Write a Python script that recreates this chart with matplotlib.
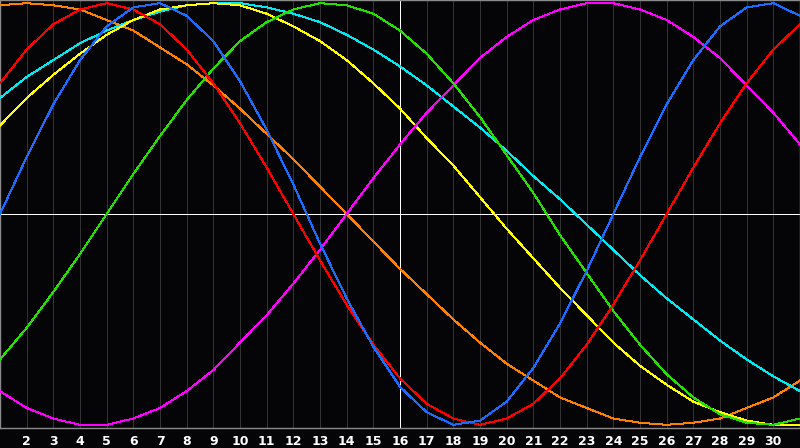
import matplotlib
matplotlib.use("Agg")
import matplotlib.pyplot as plt

# days of the month shown on the x axis (day 1 at the left edge, 31 at the right)
days = list(range(1, 32))
tick_days = list(range(2, 31))

# cycle values, one per day (days 1..31)
physical = [0.00, 0.27, 0.52, 0.73, 0.89, 0.98, 1.00, 0.94, 0.82, 0.63, 0.40,
            0.14, -0.14, -0.40, -0.63, -0.82, -0.94, -1.00, -0.98, -0.89, -0.73,
            -0.52, -0.27, 0.00, 0.27, 0.52, 0.73, 0.89, 0.98, 1.00, 0.94]
emotional = [0.62, 0.78, 0.90, 0.97, 1.00, 0.97, 0.90, 0.78, 0.62, 0.43, 0.22,
             0.00, -0.22, -0.43, -0.62, -0.78, -0.90, -0.97, -1.00, -0.97, -0.90,
             -0.78, -0.62, -0.43, -0.22, 0.00, 0.22, 0.43, 0.62, 0.78, 0.90]
intellectual = [-0.69, -0.54, -0.37, -0.19, 0.00, 0.19, 0.37, 0.54, 0.69, 0.82,
                0.91, 0.97, 1.00, 0.99, 0.95, 0.87, 0.76, 0.62, 0.46, 0.28, 0.10,
                -0.10, -0.28, -0.46, -0.62, -0.76, -0.87, -0.95, -0.99, -1.00, -0.97]
intuitive = [-0.84, -0.92, -0.97, -1.00, -1.00, -0.97, -0.92, -0.84, -0.74, -0.61,
             -0.48, -0.33, -0.17, 0.00, 0.17, 0.33, 0.48, 0.61, 0.74, 0.84, 0.92,
             0.97, 1.00, 1.00, 0.97, 0.92, 0.84, 0.74, 0.61, 0.48, 0.33]
awareness = [0.99, 1.00, 0.99, 0.97, 0.92, 0.87, 0.79, 0.71, 0.61, 0.50, 0.38,
             0.26, 0.13, 0.00, -0.13, -0.26, -0.38, -0.50, -0.61, -0.71, -0.79,
             -0.87, -0.92, -0.97, -0.99, -1.00, -0.99, -0.97, -0.92, -0.87, -0.79]
aesthetic = [0.42, 0.55, 0.66, 0.76, 0.85, 0.92, 0.97, 0.99, 1.00, 0.99, 0.95,
             0.89, 0.82, 0.73, 0.62, 0.50, 0.36, 0.23, 0.08, -0.07, -0.21,
             -0.35, -0.48, -0.61, -0.72, -0.81, -0.89, -0.94, -0.98, -1.00, -1.00]
spiritual = [0.55, 0.65, 0.73, 0.81, 0.87, 0.92, 0.96, 0.99, 1.00, 1.00, 0.98,
             0.95, 0.91, 0.85, 0.78, 0.70, 0.61, 0.51, 0.41, 0.30, 0.18, 0.07,
             -0.05, -0.17, -0.29, -0.40, -0.50, -0.60, -0.69, -0.77, -0.84]

series = [
    (awareness, "#ff7f00"),
    (spiritual, "#00e8f0"),
    (aesthetic, "#ffff00"),
    (intuitive, "#ff00ff"),
    (intellectual, "#22e000"),
    (emotional, "#ff0000"),
    (physical, "#1a6cff"),
]

fig = plt.figure(figsize=(8, 4.48), dpi=100, facecolor="#050508")
ax = fig.add_axes([0, 20 / 448, 1, 428 / 448])
ax.set_facecolor("#050508")

# day grid
for d in tick_days:
    if d == 16:
        continue
    ax.axvline(d, color="#333333", lw=0.72, antialiased=False, zorder=1)

for vals, col in series:
    ax.plot(days, vals, color=col, lw=0.72, antialiased=False, zorder=3)

ax.axhline(0, color="white", lw=0.72, antialiased=False, zorder=2)
ax.axvline(16, color="white", lw=0.72, antialiased=False, zorder=2)

ax.set_xlim(1, 31)
ax.set_ylim(-1.015, 1.015)
ax.set_yticks([])
ax.set_xticks(tick_days)
ax.set_xticklabels([str(d) for d in tick_days], color="white",
                   fontsize=9, fontweight="bold")
ax.tick_params(axis="x", length=0, pad=5)

for s in ax.spines.values():
    s.set_color("#8a8a8a")
    s.set_linewidth(1.0)

fig.savefig("out.png", dpi=100, facecolor=fig.get_facecolor())
